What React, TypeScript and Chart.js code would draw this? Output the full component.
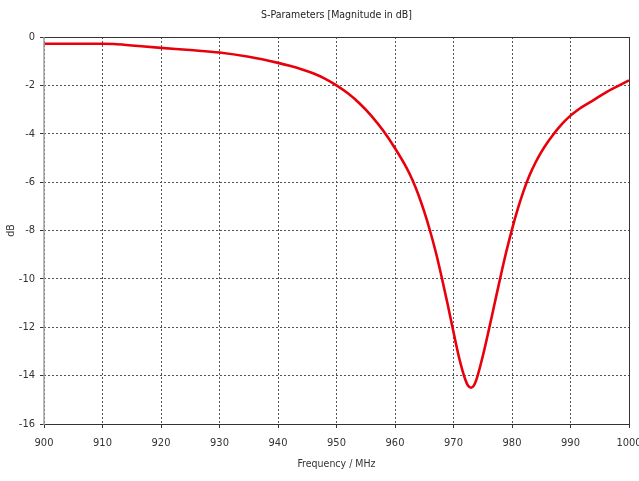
import React, { useEffect, useRef } from "react";
import { Chart, registerables } from "chart.js";

Chart.register(...registerables);

const chartTitle = "S-Parameters [Magnitude in dB]";
const xAxisTitle = "Frequency / MHz";
const yAxisTitle = "dB";

const frequencies = [
  900, 905, 910, 912, 915, 920, 925, 930, 935, 940, 942, 944, 946, 948, 950,
  952, 954, 956, 958, 960, 962, 963, 964, 965, 966, 967, 968, 969, 970, 971,
  972, 972.5, 973, 973.5, 974, 975, 976, 977, 978, 979, 980, 981, 982, 983,
  984, 985, 986, 987, 988, 989, 990, 991, 992, 994, 996, 998, 1000,
];
const s11dB = [
  -0.28, -0.28, -0.28, -0.29, -0.35, -0.45, -0.54, -0.64, -0.82, -1.07, -1.19,
  -1.33, -1.5, -1.72, -2.0, -2.34, -2.76, -3.27, -3.88, -4.6, -5.42, -5.92,
  -6.52, -7.22, -8.02, -8.92, -9.95, -11.05, -12.2, -13.3, -14.15, -14.42,
  -14.5, -14.4, -14.1, -13.2, -12.15, -11.05, -9.95, -8.9, -7.95, -7.1, -6.35,
  -5.72, -5.2, -4.76, -4.38, -4.05, -3.75, -3.48, -3.25, -3.06, -2.89, -2.6,
  -2.3, -2.04, -1.79,
];

const xMin = 900;
const xMax = 1000;
const xStep = 10;
const yMin = -16;
const yMax = 0;
const yStep = 2;

const FONT = "'DejaVu Sans Condensed', 'Liberation Sans Narrow', sans-serif";

const framePlugin = {
  id: "frame",
  afterDraw(chart: any) {
    const { ctx, chartArea } = chart;
    const { left, right, top, bottom } = chartArea;
    ctx.save();
    ctx.lineWidth = 1;
    ctx.strokeStyle = "#333333";
    ctx.beginPath();
    ctx.moveTo(left, top + 0.5);
    ctx.lineTo(right, top + 0.5);
    ctx.moveTo(right + 0.5, top);
    ctx.lineTo(right + 0.5, bottom);
    ctx.moveTo(left, bottom + 0.5);
    ctx.lineTo(right + 0.5, bottom + 0.5);
    ctx.stroke();
    ctx.strokeStyle = "#a0a0a0";
    ctx.lineWidth = 1.5;
    ctx.beginPath();
    ctx.moveTo(left, top);
    ctx.lineTo(left, bottom + 1);
    ctx.stroke();
    ctx.fillStyle = "#222222";
    ctx.font = "10.5px " + FONT;
    ctx.textAlign = "center";
    ctx.textBaseline = "middle";
    ctx.fillText(chartTitle, (left + right) / 2, 15);
    ctx.restore();
  },
};

export default function App() {
  const ref = useRef<HTMLCanvasElement | null>(null);

  useEffect(() => {
    if (!ref.current) return;
    const data = frequencies.map((f, i) => ({ x: f, y: s11dB[i] }));
    const chart = new Chart(ref.current, {
      type: "line",
      data: {
        datasets: [
          {
            data,
            borderColor: "#e8000b",
            borderWidth: 2.6,
            pointRadius: 0,
            cubicInterpolationMode: "monotone",
            fill: false,
          },
        ],
      },
      options: {
        animation: false,
        responsive: false,
        maintainAspectRatio: false,
        layout: { padding: { left: 0, right: 10, top: 37, bottom: 0 } },
        plugins: {
          legend: { display: false },
          tooltip: { enabled: false },
          title: { display: false },
        },
        scales: {
          x: {
            type: "linear",
            min: xMin,
            max: xMax,
            afterFit: (s: any) => {
              s.height = 57;
              s.paddingLeft = 0;
              s.paddingRight = 0;
            },
            ticks: {
              stepSize: xStep,
              color: "#333333",
              font: { family: FONT, size: 11 },
              padding: 9,
              maxRotation: 0,
              callback: (v: any) => String(v),
            },
            grid: {
              color: "#555555",
              lineWidth: 1,
              drawTicks: true,
              tickLength: 4,
              tickColor: "#333333",
              tickBorderDash: [],
            },
            border: { display: false, dash: [2, 2] },
            title: {
              display: true,
              text: xAxisTitle,
              color: "#333333",
              font: { family: FONT, size: 10.5 },
              padding: { top: 0, bottom: 10 },
            },
          },
          y: {
            type: "linear",
            min: yMin,
            max: yMax,
            afterFit: (s: any) => {
              s.width = 44;
              s.paddingTop = 0;
              s.paddingBottom = 0;
            },
            ticks: {
              stepSize: yStep,
              color: "#333333",
              font: { family: FONT, size: 11 },
              padding: 5,
              callback: (v: any) => String(v),
            },
            grid: {
              color: "#555555",
              lineWidth: 1,
              drawTicks: true,
              tickLength: 4,
              tickColor: "#333333",
              tickBorderDash: [],
            },
            border: { display: false, dash: [2, 2] },
            title: {
              display: true,
              text: yAxisTitle,
              color: "#333333",
              font: { family: FONT, size: 10.5 },
              padding: { top: 5, bottom: 0 },
            },
          },
        },
      },
      plugins: [framePlugin],
    } as any);
    return () => chart.destroy();
  }, []);

  return (
    <div
      style={{
        position: "fixed",
        left: 0,
        top: 0,
        width: 639,
        height: 481,
        background: "#ffffff",
      }}
    >
      <canvas ref={ref} width={639} height={481} style={{ width: 639, height: 481 }} />
    </div>
  );
}
